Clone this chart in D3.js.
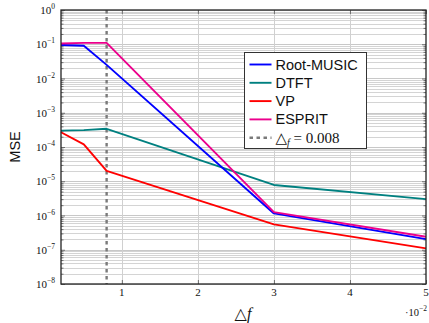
<!DOCTYPE html>
<html>
<head>
<meta charset="utf-8">
<script src="https://cdn.jsdelivr.net/npm/d3@7"></script>
<style>
  html, body { margin: 0; padding: 0; background: #fff; }
  svg { display: block; }
</style>
</head>
<body>
<svg id="chart" width="429" height="323"></svg>
<script>
// Frequency separation (in units of 10^-2) at which each estimator was evaluated
const deltaF = [0.2, 0.5, 0.8, 3, 5];

// Mean squared error per estimator
const rootMusic = [0.095, 0.09, 0.025, 1.15e-6, 2.05e-7];
const dtft      = [3.0e-4, 3.1e-4, 3.4e-4, 7.8e-6, 3.0e-6];
const vp        = [2.7e-4, 1.2e-4, 2.0e-5, 5.5e-7, 1.1e-7];
const esprit    = [0.105, 0.11, 0.11, 1.25e-6, 2.4e-7];

const seriesNames  = ["Root-MUSIC", "DTFT", "VP", "ESPRIT"];
const seriesColors = ["#0000ff", "#008080", "#ff0000", "#ec008c"];
const seriesValues = [rootMusic, dtft, vp, esprit];

const xTicks = [1, 2, 3, 4, 5];
const yExponents = [0, -1, -2, -3, -4, -5, -6, -7, -8];
const threshold = 0.8; // Δf = 0.008

const margin = { left: 61, top: 10, right: 3, bottom: 39 };
const W = 429, H = 323;
const pw = W - margin.left - margin.right;
const ph = H - margin.top - margin.bottom;

const svg = d3.select("#chart");
const g = svg.append("g").attr("transform", `translate(${margin.left},${margin.top})`);

const x = d3.scaleLinear().domain([0.2, 5]).range([0, pw]);
const y = d3.scaleLog().domain([1e-8, 1]).range([ph, 0]);

// minor + major horizontal grid values
const minorVals = [];
for (let e = -8; e < 0; e++) {
  for (let m = 2; m <= 9; m++) minorVals.push(m * Math.pow(10, e));
}
const majorVals = yExponents.map(e => Math.pow(10, e));

const grid = g.append("g");
grid.selectAll("line.minor").data(minorVals).join("line")
  .attr("x1", 0).attr("x2", pw)
  .attr("y1", d => Math.round(y(d)) + 0.5).attr("y2", d => Math.round(y(d)) + 0.5)
  .attr("stroke", "#d4d4d4").attr("stroke-width", 1);
grid.selectAll("line.major").data(majorVals).join("line")
  .attr("x1", 0).attr("x2", pw)
  .attr("y1", d => Math.round(y(d)) + 0.5).attr("y2", d => Math.round(y(d)) + 0.5)
  .attr("stroke", "#c8c8c8").attr("stroke-width", 1);
grid.selectAll("line.vx").data(xTicks.slice(0, -1)).join("line")
  .attr("x1", d => Math.round(x(d)) + 0.5).attr("x2", d => Math.round(x(d)) + 0.5)
  .attr("y1", 0).attr("y2", ph)
  .attr("stroke", "#d0d0d0").attr("stroke-width", 1);

// axes with inward ticks
const yAxisL = d3.axisLeft(y).tickValues(majorVals).tickSize(-4).tickFormat("");
const yAxisLMinor = d3.axisLeft(y).tickValues(minorVals).tickSize(-2.5).tickFormat("");
const yAxisR = d3.axisRight(y).tickValues(majorVals).tickSize(-4).tickFormat("");
const yAxisRMinor = d3.axisRight(y).tickValues(minorVals).tickSize(-2.5).tickFormat("");
const xAxisB = d3.axisBottom(x).tickValues(xTicks).tickSize(-4).tickFormat("");
const xAxisT = d3.axisTop(x).tickValues(xTicks).tickSize(-4).tickFormat("");

function styleAxis(sel) {
  sel.select(".domain").remove();
  sel.selectAll(".tick line").attr("stroke", "#555").attr("stroke-width", 0.8);
}
g.append("g").call(yAxisL).call(styleAxis);
g.append("g").call(yAxisLMinor).call(styleAxis);
g.append("g").attr("transform", `translate(${pw},0)`).call(yAxisR).call(styleAxis);
g.append("g").attr("transform", `translate(${pw},0)`).call(yAxisRMinor).call(styleAxis);
g.append("g").attr("transform", `translate(0,${ph})`).call(xAxisB).call(styleAxis);
g.append("g").call(xAxisT).call(styleAxis);

// threshold marker
g.append("line")
  .attr("x1", x(threshold)).attr("x2", x(threshold))
  .attr("y1", 0).attr("y2", ph)
  .attr("stroke", "#7a7a7a").attr("stroke-width", 2.4)
  .attr("stroke-dasharray", "3.5,3.5");

// series
const line = d3.line().x((d, i) => x(deltaF[i])).y(d => y(d));
const order = [1, 2, 0, 3];
order.forEach(k => {
  g.append("path")
    .datum(seriesValues[k])
    .attr("d", line)
    .attr("fill", "none")
    .attr("stroke", seriesColors[k])
    .attr("stroke-width", 1.9)
    .attr("stroke-linejoin", "round");
});

// frame
g.append("rect").attr("x", 0).attr("y", 0).attr("width", pw).attr("height", ph)
  .attr("fill", "none").attr("stroke", "#222").attr("stroke-width", 1.3);

// tick labels
const serif = "'Liberation Serif', 'DejaVu Serif', serif";
const yl = svg.append("g").attr("font-family", serif).attr("fill", "#111");
yExponents.forEach(e => {
  const t = yl.append("text")
    .attr("x", 55).attr("y", margin.top + y(Math.pow(10, e)) + 4)
    .attr("text-anchor", "end").attr("font-size", 11);
  t.append("tspan").text("10");
  t.append("tspan").attr("font-size", 7.5).attr("dy", -5).text(e === 0 ? "0" : "\u2212" + (-e));
});

const xl = svg.append("g").attr("font-family", serif).attr("fill", "#111");
xTicks.forEach(v => {
  xl.append("text")
    .attr("x", margin.left + x(v)).attr("y", margin.top + ph + 12)
    .attr("text-anchor", "middle").attr("font-size", 11).text(v);
});

// scale factor
const sf = svg.append("text").attr("font-family", serif).attr("fill", "#111")
  .attr("x", 427).attr("y", 316).attr("text-anchor", "end").attr("font-size", 10.5);
sf.append("tspan").text("\u00b710");
sf.append("tspan").attr("font-size", 7.5).attr("dy", -5).text("\u22122");

// axis titles
const xt = svg.append("text").attr("font-family", serif).attr("fill", "#111")
  .attr("x", 243).attr("y", 319).attr("text-anchor", "middle").attr("font-size", 16);
xt.append("tspan").text("\u25b3");
xt.append("tspan").attr("font-style", "italic").text("f");

svg.append("text")
  .attr("font-family", "'Liberation Sans', Arial, sans-serif").attr("font-size", 14.5)
  .attr("fill", "#111")
  .attr("transform", `translate(20,147) rotate(-90)`)
  .attr("text-anchor", "middle").text("MSE");

// legend
const lg = svg.append("g").attr("transform", "translate(244.5,52.5)");
lg.append("rect").attr("width", 122).attr("height", 96)
  .attr("fill", "#fff").attr("stroke", "#333").attr("stroke-width", 1);
const rowY = i => 12 + i * 18.3;
seriesNames.forEach((name, i) => {
  lg.append("line").attr("x1", 5).attr("x2", 27).attr("y1", rowY(i)).attr("y2", rowY(i))
    .attr("stroke", seriesColors[i]).attr("stroke-width", 1.9);
  lg.append("text").attr("x", 31).attr("y", rowY(i) + 5)
    .attr("font-family", "'Liberation Sans', Arial, sans-serif").attr("font-size", 14.5)
    .attr("fill", "#111").text(name);
});
lg.append("line").attr("x1", 5).attr("x2", 27).attr("y1", rowY(4)).attr("y2", rowY(4))
  .attr("stroke", "#7a7a7a").attr("stroke-width", 2.4).attr("stroke-dasharray", "3.5,3.5");
const lt = lg.append("text").attr("x", 31).attr("y", rowY(4) + 5)
  .attr("font-family", serif).attr("font-size", 15).attr("fill", "#111");
lt.append("tspan").text("\u25b3");
lt.append("tspan").attr("font-style", "italic").attr("font-size", 10).attr("dy", 3).text("f");
lt.append("tspan").attr("dy", -3).text(" = 0.008");
</script>
</body>
</html>
